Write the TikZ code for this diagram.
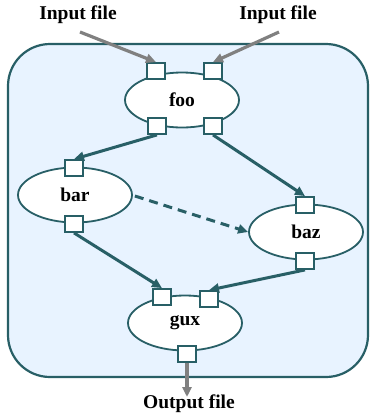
\documentclass[tikz,border=0pt]{standalone}
\usepackage{fontspec}
\setmainfont{Liberation Serif}
\usetikzlibrary{shapes.geometric,arrows.meta}
\definecolor{teal}{RGB}{40,95,102}
\definecolor{panel}{RGB}{232,243,255}
\definecolor{feed}{RGB}{128,128,128}
\begin{document}
\begin{tikzpicture}[x=1pt,y=-1pt,
  task/.style={ellipse,draw=teal,line width=1.8pt,fill=white,minimum width=114pt,
    minimum height=55pt,inner sep=0pt,font=\fontsize{19.5}{21}\selectfont\bfseries},
  port/.style={rectangle,draw=teal,line width=1.8pt,fill=white,minimum width=18pt,
    minimum height=16pt,inner sep=0pt},
  flow/.style={draw=teal,line width=3pt,-{Triangle[length=10pt,width=9pt]}},
  io/.style={draw=feed,line width=3.2pt,-{Triangle[length=10pt,width=9pt]}},
  label/.style={font=\fontsize{19.5}{21}\selectfont\bfseries,inner sep=0pt}]
\useasboundingbox (0,0) rectangle (370,416);

% workflow container
\draw[teal,line width=2.2pt,fill=panel,rounded corners=42pt] (8,44) rectangle (368,377);

% tasks
\node[task] (foo) at (182,100) {foo};
\node[task] (bar) at (75,195) {bar};
\node[task] (baz) at (306,232) {baz};
\node[task] (gux) at (185,323) {gux};

% ports
\node[port] (fooTL) at (156,71) {};
\node[port] (fooTR) at (213,71) {};
\node[port] (fooBL) at (157,126) {};
\node[port] (fooBR) at (213,126) {};
\node[port] (barT) at (74,168) {};
\node[port] (barB) at (74,224) {};
\node[port] (bazT) at (305,205) {};
\node[port] (bazB) at (305,261) {};
\node[port] (guxTL) at (162,297) {};
\node[port] (guxTR) at (209,299) {};
\node[port] (guxB) at (187,354) {};

% external files
\node[label] (inL) at (78,15) {Input file};
\node[label] (inR) at (278,15) {Input file};
\node[label] (out) at (189,404) {Output file};
\coordinate (inLs) at (80,32);
\coordinate (inRs) at (279,32);
\coordinate (outE) at (187,397);

\draw[io] (inLs) -- (fooTL.north);
\draw[io] (inRs) -- (fooTR.north);
\draw[io] (guxB.south) -- (outE);

% dependencies
\draw[flow] (fooBL.south) -- (barT.north);
\draw[flow] (fooBR.south) -- (bazT.north);
\draw[flow,dashed,dash pattern=on 9pt off 6pt] (bar.east) ++(2,1) coordinate (dS) (dS) -- (baz.west);
\draw[flow] (barB.south) -- (guxTL.north);
\draw[flow] (bazB.south) -- (guxTR.north);
\end{tikzpicture}
\end{document}
